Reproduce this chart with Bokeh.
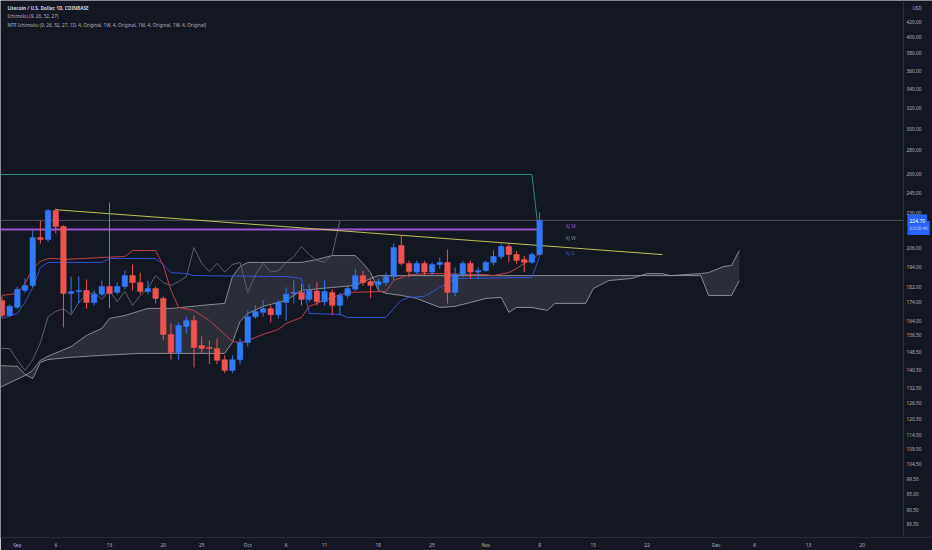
import pandas as pd
import numpy as np
from bokeh.plotting import figure
from bokeh.models import (Range1d, FixedTicker, PrintfTickFormatter, Label,
                          ColumnDataSource)
from bokeh.core.properties import value
from bokeh.embed import file_html
from bokeh.resources import INLINE

# ---------------- data ----------------
dates = pd.date_range("2021-08-30", "2021-11-08", freq="D")
open_ = [174.7, 166.6, 171.0, 180.3, 183.1, 212.9, 211.6, 231.8, 220.4, 178.6,
         179.7, 180.3, 173.6, 178.1, 182.6, 179.2, 182.6, 188.9, 184.8, 179.7,
         181.4, 175.8, 157.0, 148.3, 161.0, 164.0, 151.6, 150.7, 150.2, 145.0,
         140.2, 145.0, 153.0, 166.0, 168.3, 170.2, 167.0, 173.6, 178.6, 179.2,
         175.3, 180.0, 174.0, 179.2, 172.0, 177.5, 181.0, 188.9, 185.4, 183.6,
         184.8, 188.3, 207.6, 196.3, 191.0, 196.3, 191.0, 195.6, 196.9, 179.2,
         189.5, 196.3, 191.0, 191.9, 196.9, 200.6, 207.0, 201.9, 198.7, 197.0,
         201.9]
high = [177.0, 172.5, 182.5, 187.2, 217.7, 224.6, 233.0, 233.5, 221.5, 188.3,
        188.3, 186.6, 180.3, 186.0, 237.6, 185.0, 191.9, 195.6, 190.7, 186.0,
        182.5, 177.0, 162.5, 163.0, 166.0, 166.6, 156.0, 154.0, 155.0, 147.0,
        147.0, 155.0, 169.3, 172.0, 174.7, 172.0, 175.0, 182.0, 186.0, 184.0,
        184.0, 185.0, 186.0, 181.0, 179.0, 183.0, 193.0, 191.9, 187.0, 187.0,
        190.7, 208.9, 214.3, 198.0, 198.0, 198.0, 197.0, 200.0, 205.0, 193.8,
        198.0, 198.0, 194.0, 198.0, 204.4, 209.0, 209.0, 204.0, 201.0, 203.0,
        230.5]
low = [165.5, 165.7, 170.0, 179.0, 182.0, 208.9, 210.0, 215.7, 160.5, 167.7,
       173.2, 170.2, 172.0, 177.0, 170.4, 178.0, 181.0, 180.3, 178.0, 178.0,
       173.1, 154.0, 145.0, 145.0, 157.5, 141.5, 148.0, 143.0, 143.0, 139.0,
       139.0, 143.0, 151.0, 165.0, 166.0, 163.0, 165.0, 164.0, 173.0, 172.0,
       174.0, 172.0, 172.0, 167.0, 167.0, 176.0, 180.0, 183.0, 176.0, 181.0,
       183.0, 186.0, 195.0, 188.0, 190.0, 189.0, 189.0, 193.0, 173.0, 177.0,
       188.0, 187.0, 187.0, 191.0, 195.0, 199.0, 197.0, 196.0, 191.0, 196.0,
       201.0]
close = [166.6, 171.5, 180.9, 183.1, 212.9, 211.6, 231.8, 220.4, 178.6, 179.7,
         180.3, 173.6, 178.1, 182.6, 178.6, 182.6, 188.9, 184.8, 179.7, 181.4,
         175.8, 157.0, 148.3, 161.5, 164.0, 150.7, 150.2, 150.2, 144.7, 140.2,
         145.0, 153.0, 166.0, 168.8, 170.2, 167.0, 173.6, 178.1, 179.2, 175.3,
         180.3, 174.0, 179.7, 172.0, 177.5, 181.4, 188.9, 184.8, 183.1, 185.4,
         188.3, 206.3, 196.3, 191.3, 196.3, 191.0, 195.6, 196.9, 179.2, 189.5,
         196.3, 191.0, 191.9, 196.9, 200.6, 207.0, 201.9, 198.1, 197.0, 201.9,
         224.7]

tenkan_dates = ["2021-08-30", "2021-09-01", "2021-09-02", "2021-09-03", "2021-09-04",
                "2021-09-05", "2021-09-06", "2021-09-07", "2021-09-12", "2021-09-15",
                "2021-09-16", "2021-09-19", "2021-09-20", "2021-09-21", "2021-09-22",
                "2021-09-24", "2021-09-26", "2021-09-27", "2021-09-28", "2021-09-29",
                "2021-09-30", "2021-10-01", "2021-10-03", "2021-10-05", "2021-10-06",
                "2021-10-08", "2021-10-09", "2021-10-12", "2021-10-14", "2021-10-19",
                "2021-10-20", "2021-10-22", "2021-10-25", "2021-11-01", "2021-11-02",
                "2021-11-04", "2021-11-05", "2021-11-06", "2021-11-07", "2021-11-08"]
tenkan = [177.5, 178.6, 184.3, 193.2, 197.5, 199.3, 199.3, 198.7, 200.0, 200.6,
          204.4, 204.4, 195.0, 180.3, 170.9, 169.3, 164.0, 160.5, 157.0, 153.6,
          153.1, 154.0, 157.0, 159.5, 162.5, 165.6, 171.5, 176.4, 179.2, 179.7,
          186.0, 189.5, 190.1, 189.5, 188.9, 190.7, 193.2, 196.3, 198.7, 202.5]

kijun_dates = ["2021-08-30", "2021-09-01", "2021-09-02", "2021-09-03", "2021-09-04",
               "2021-09-05", "2021-09-12", "2021-09-13", "2021-09-19", "2021-09-20",
               "2021-09-21", "2021-09-23", "2021-09-24", "2021-10-06", "2021-10-07",
               "2021-10-08", "2021-10-09", "2021-10-13", "2021-10-14", "2021-10-19",
               "2021-10-20", "2021-10-21", "2021-10-22", "2021-10-24", "2021-10-26",
               "2021-10-28", "2021-11-07", "2021-11-08"]
kijun = [165.1, 167.7, 173.6, 182.0, 193.8, 196.9, 196.9, 199.3, 199.3, 195.6,
         190.7, 190.1, 188.9, 188.3, 187.8, 187.2, 167.7, 167.2, 165.6, 165.6,
         170.4, 174.7, 176.4, 177.0, 182.0, 187.2, 187.8, 200.6]

span_a_dates = ["2021-08-29", "2021-08-30", "2021-09-02", "2021-09-03", "2021-09-04",
                "2021-09-05", "2021-09-08", "2021-09-10", "2021-09-12", "2021-09-13",
                "2021-09-15", "2021-09-18", "2021-09-21", "2021-09-25", "2021-09-28",
                "2021-09-29", "2021-09-30", "2021-10-01", "2021-10-08", "2021-10-10",
                "2021-10-12", "2021-10-15", "2021-10-16", "2021-10-17", "2021-10-18",
                "2021-10-19", "2021-10-21", "2021-10-23", "2021-10-26", "2021-10-28",
                "2021-10-30", "2021-11-01", "2021-11-03", "2021-11-04", "2021-11-05",
                "2021-11-07", "2021-11-09", "2021-11-10", "2021-11-14", "2021-11-15",
                "2021-11-17", "2021-11-20", "2021-11-22", "2021-11-24", "2021-11-25",
                "2021-11-29", "2021-11-30", "2021-12-02", "2021-12-03", "2021-12-04"]
span_a = [132.0, 133.3, 138.0, 140.2, 144.7, 146.6, 151.1, 156.5, 160.0, 165.1,
          166.6, 170.4, 170.4, 172.0, 173.1, 188.3, 194.4, 196.9, 196.9, 198.7,
          201.2, 201.2, 196.3, 190.7, 180.3, 178.6, 177.5, 175.8, 170.9, 171.5,
          173.6, 175.8, 176.4, 168.3, 170.9, 170.9, 169.3, 173.1, 173.1, 181.4,
          186.0, 187.2, 190.1, 190.1, 188.9, 190.1, 190.7, 194.4, 195.0, 204.4]

span_b_dates = ["2021-08-29", "2021-09-01", "2021-09-02", "2021-09-03", "2021-09-04",
                "2021-09-05", "2021-09-08", "2021-09-12", "2021-09-17", "2021-09-28",
                "2021-09-29", "2021-09-30", "2021-10-01", "2021-10-03", "2021-10-06",
                "2021-10-08", "2021-10-12", "2021-10-15", "2021-10-17", "2021-10-18",
                "2021-11-29", "2021-11-30", "2021-12-03", "2021-12-04"]
span_b = [142.4, 142.0, 138.4, 136.7, 143.8, 145.1, 146.1, 147.0, 147.9, 147.9,
          153.1, 163.5, 167.7, 171.5, 174.7, 180.3, 182.0, 183.1, 187.2, 188.9,
          188.9, 177.5, 177.5, 186.0]

kj_w_dates = ["2021-08-29", "2021-11-07", "2021-11-08"]
kj_w = [259.6, 259.6, 210.9]
kj_m_dates = ["2021-08-29", "2021-11-08"]
kj_m = [218.4, 218.4]
trend_dates = ["2021-09-06", "2021-11-24"]
trend = [232.4, 201.8]

mtf_labels = ["Kj M", "Kj W", "Kj D"]
mtf_values = [218.4, 210.9, 200.6]
last_price = 224.7

y_ticks = [86.5, 90.5, 95.0, 99.5, 104.5, 109.5, 114.5, 120.5, 126.5, 132.5, 140.5,
           148.5, 156.5, 164.0, 174.0, 182.0, 194.0, 206.0, 230.0, 245.0, 260.0,
           280.0, 300.0, 320.0, 340.0, 360.0, 380.0, 400.0, 420.0]
x_tick_dates = ["2021-09-01", "2021-09-06", "2021-09-13", "2021-09-20", "2021-09-25",
                "2021-10-01", "2021-10-06", "2021-10-11", "2021-10-18", "2021-10-25",
                "2021-11-01", "2021-11-08", "2021-11-15", "2021-11-22", "2021-12-01",
                "2021-12-06", "2021-12-13", "2021-12-20"]
x_tick_labels = ["Sep", "6", "13", "20", "25", "Oct", "6", "11", "18", "25",
                 "Nov", "8", "15", "22", "Dec", "6", "13", "20"]

# ---------------- styling ----------------
BG = "#131722"
UP = "#3179f5"
DOWN = "#ef5350"
TXT = "#b2b5be"
FONT = "Noto Sans"
DAY = pd.Timedelta(days=1)
W, H = 932, 550
AXH = 13
FH = H - AXH  # frame height
T0 = pd.Timestamp("2021-08-30")

x0 = T0 - DAY * 0.195
x1 = T0 + DAY * 121.16
axis_at = T0 + DAY * 117.38   # price scale sits at the right edge of the chart pane

p = figure(width=W, height=H, x_axis_type="datetime", y_axis_type="log",
           y_axis_location="right", output_backend="svg", toolbar_location=None,
           x_range=Range1d(x0, x1), y_range=Range1d(82.9, 448.7),
           background_fill_color=BG, border_fill_color=BG,
           min_border_left=0, min_border_top=0, min_border_right=0,
           min_border_bottom=AXH)
p.outline_line_color = None
p.grid.grid_line_color = None

for ax in (p.xaxis[0], p.yaxis[0]):
    ax.axis_line_color = "#2a2e39"
    ax.major_tick_line_color = None
    ax.minor_tick_line_color = None
    ax.major_tick_out = 0
    ax.minor_tick_out = 0
    ax.major_label_text_color = TXT
    ax.major_label_text_font = FONT
    ax.major_label_text_font_size = "4.8px"

p.yaxis.ticker = FixedTicker(ticks=y_ticks)
p.yaxis.formatter = PrintfTickFormatter(format="%.2f")
p.yaxis.major_label_standoff = 3
p.yaxis.fixed_location = axis_at.value / 1e6

xt = [pd.Timestamp(d).value / 1e6 for d in x_tick_dates]
p.xaxis.ticker = FixedTicker(ticks=xt)
p.xaxis.major_label_overrides = {t: l for t, l in zip(xt, x_tick_labels)}
p.xaxis.major_label_standoff = 4

# cloud
a_x = list(pd.to_datetime(span_a_dates))
b_x = list(pd.to_datetime(span_b_dates))
p.patch(a_x + b_x[::-1], span_a + span_b[::-1], fill_color="#787b86",
        fill_alpha=0.24, line_color=None)
p.line(a_x, span_a, line_color="#9a9da6", line_width=1, line_alpha=0.85)
p.line(b_x, span_b, line_color="#9a9da6", line_width=1, line_alpha=0.85)

# price line
p.line([x0, axis_at], [last_price, last_price], line_color="#4b4f5b", line_width=1)

# chikou (closes shifted back 26 periods)
p.line(dates[25:] - DAY * 26, close[25:], line_color="#5f626d", line_width=1)
# kijun / tenkan
p.line(pd.to_datetime(kijun_dates), kijun, line_color="#3552d0", line_width=1)
p.line(pd.to_datetime(tenkan_dates), tenkan, line_color="#c0414b", line_width=1)

# MTF lines
p.line(pd.to_datetime(kj_w_dates), kj_w, line_color="#2f8a7c", line_width=1)
p.line(pd.to_datetime(kj_m_dates), kj_m, line_color="#9b55d2", line_width=2)
p.line(pd.to_datetime(trend_dates), trend, line_color="#c2c25a", line_width=1)

# candles
o = np.array(open_); c = np.array(close)
colors = [UP if cc >= oo else DOWN for oo, cc in zip(o, c)]
src = ColumnDataSource(dict(x=dates, o=o, h=high, l=low, c=c,
                            top=np.maximum(o, c), bot=np.minimum(o, c), col=colors))
p.segment(x0="x", y0="h", x1="x", y1="l", line_color="col", line_width=1, source=src)
p.vbar(x="x", width=DAY * 0.72, top="top", bottom="bot", fill_color="col",
       line_color="col", line_width=0.5, source=src)

# MTF labels
lab_x = [pd.Timestamp("2021-11-08") + DAY * 3.4] * 3
p.text(x=lab_x, y=mtf_values, text=mtf_labels,
       text_color=["#9b55d2", "#6f8f8a", "#3f5bd6"], text_font=value(FONT),
       text_font_size="4.8px", text_baseline="bottom", text_align="left")

# legend texts (top-left)
leg = [("Litecoin / U.S. Dollar, 1D, COINBASE", "#d1d4dc", "bold"),
       ("Ichimoku (9, 26, 52, 27)", TXT, "normal"),
       ("MTF Ichimoku (9, 26, 52, 27, 1D, 4, Original, 1W, 4, Original, 1M, 4, Original, 1W, 4, Original)", TXT, "normal")]
for i, (t, col, st) in enumerate(leg):
    p.add_layout(Label(x=7, y=FH - 7.5 - 8.3 * i, x_units="screen", y_units="screen",
                       text=t, text_color=col, text_font=FONT, text_font_size="4.7px",
                       text_font_style=st, text_baseline="middle"))

# last-price label on the price scale
p.add_layout(Label(x=907, y=FH - 227.5, x_units="screen", y_units="screen",
                   text="03:08:46", text_color="#c8d6ff", text_font=FONT,
                   text_font_size="4.6px", text_baseline="middle",
                   background_fill_color="#2962ff", padding=(2, 4)))
p.add_layout(Label(x=907, y=FH - 220, x_units="screen", y_units="screen",
                   text="224.70", text_color="#ffffff", text_font=FONT,
                   text_font_size="5px", text_baseline="middle",
                   background_fill_color="#2962ff", padding=(2, 4)))
p.add_layout(Label(x=912, y=FH - 7, x_units="screen", y_units="screen",
                   text="USD", text_color=TXT, text_font=FONT,
                   text_font_size="4.6px", text_baseline="middle"))

open("out.html", "w").write(file_html(p, INLINE))
